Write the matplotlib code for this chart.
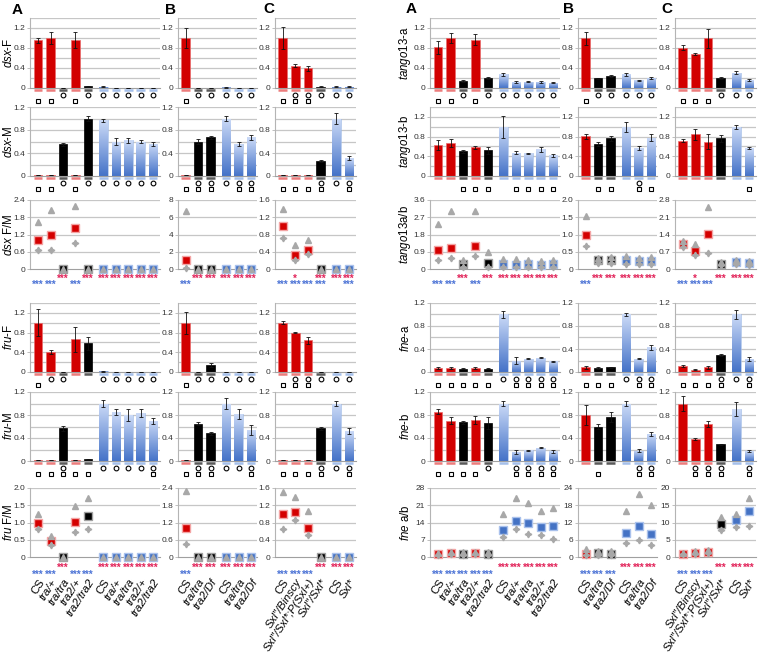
import numpy as np
import matplotlib
matplotlib.use('Agg')
import matplotlib.pyplot as plt
from matplotlib.colors import LinearSegmentedColormap
from matplotlib.transforms import offset_copy

plt.rcParams['font.family'] = ['Liberation Sans', 'DejaVu Sans']
plt.rcParams['mathtext.fontset'] = 'custom'
plt.rcParams['mathtext.rm'] = 'Liberation Sans'
plt.rcParams['mathtext.it'] = 'Liberation Sans:italic'

nan = np.nan

# genotypes / colours per column
labels_A = ['CS', 'tra/+', 'tra/tra', 'tra2/+', 'tra2/tra2', 'CS', 'tra/+', 'tra/tra', 'tra2/+', 'tra2/tra2']
colors_A = ['r', 'r', 'k', 'r', 'k', 'b', 'b', 'b', 'b', 'b']
labels_B = ['CS', 'tra/tra', 'tra2/Df', 'CS', 'tra/tra', 'tra2/Df']
colors_B = ['r', 'k', 'k', 'b', 'b', 'b']
labels_C = ['CS', 'Sxl\u2033/Binscy', 'Sxl\u2033/Sxl*;P(Sxl+)', 'Sxl\u2033/Sxl*', 'CS', 'Sxl*']
colors_C = ['r', 'r', 'r', 'k', 'b', 'b']

# ---- dsx ----
dsxF_A = [0.96, 1.0, 0.01, 0.97, 0.04, 0.03, 0.01, 0.01, 0.01, 0.01]
dsxF_A_err = [0.05, 0.12, 0, 0.16, 0.01, 0.01, 0, 0, 0, 0]
dsxF_A_mk = ['s', 's', 'o', 's', 'o', 'o', 'o', 'o', 'o', 'o']
dsxF_B = [1.0, 0.01, 0.01, 0.02, 0.01, 0.01]
dsxF_B_err = [0.2, 0, 0, 0.01, 0, 0]
dsxF_B_mk = ['s', 'o', 'o', 'o', 'o', 'o']
dsxF_C = [1.0, 0.45, 0.40, 0.03, 0.03, 0.03]
dsxF_C_err = [0.22, 0.03, 0.05, 0.01, 0.01, 0.01]
dsxF_C_mk = ['s', 'os', 'os', 'o', 'o', 'o']

dsxM_A = [0.01, 0.01, 0.55, 0.01, 1.0, 0.97, 0.60, 0.62, 0.60, 0.56]
dsxM_A_err = [0, 0, 0.03, 0, 0.04, 0.03, 0.06, 0.04, 0.02, 0.03]
dsxM_A_mk = ['s', 's', 'o', 's', 'o', 'o', 'o', 'o', 'o', 'o']
dsxM_B = [0.01, 0.60, 0.67, 1.0, 0.56, 0.67]
dsxM_B_err = [0, 0.04, 0.03, 0.05, 0.03, 0.04]
dsxM_B_mk = ['s', 'os', 'os', 'o', 'os', 'os']
dsxM_C = [0.01, 0.01, 0.01, 0.26, 1.0, 0.31]
dsxM_C_err = [0, 0, 0, 0.01, 0.09, 0.04]
dsxM_C_mk = ['s', 's', 's', 'os', 'o', 'os']

dsxR_A = [1.02, 1.2, 0, 1.42, 0, 0, 0, 0, 0, 0]
dsxR_A_hi = [1.65, 2.05, 0, 2.2, 0, 0, 0, 0, 0, 0]
dsxR_A_lo = [0.65, 0.65, nan, 0.9, nan, nan, nan, nan, nan, nan]
dsxR_A_red = ['', '', '***', '', '***', '***', '***', '***', '***', '***']
dsxR_A_blue = ['***', '***', '', '***', '', '', '', '', '', '']
dsxR_B = [1.0, 0, 0, 0, 0, 0]
dsxR_B_hi = [6.7, 0, 0, 0, 0, 0]
dsxR_B_lo = [0.15, nan, nan, nan, nan, nan]
dsxR_B_red = ['', '***', '***', '***', '***', '***']
dsxR_B_blue = ['***', '', '', '', '', '']
dsxR_C = [1.0, 0.32, 0.44, 0, 0, 0]
dsxR_C_hi = [1.38, 0.55, 0.67, 0, 0, 0]
dsxR_C_lo = [0.72, 0.2, 0.35, nan, nan, nan]
dsxR_C_red = ['', '*', '', '***', '***', '***']
dsxR_C_blue = ['***', '***', '***', '***', '', '***']

# ---- fru ----
fruF_A = [1.0, 0.40, 0.01, 0.66, 0.58, 0.02, 0.01, 0.01, 0.01, 0.01]
fruF_A_err = [0.27, 0.04, 0, 0.26, 0.13, 0.01, 0, 0, 0, 0]
fruF_A_mk = ['s', 'o', 'o', '', '', 'o', 'o', 'o', 'o', 'o']
fruF_B = [1.0, 0.01, 0.14, 0.01, 0.01, 0.01]
fruF_B_err = [0.22, 0, 0.04, 0, 0, 0]
fruF_B_mk = ['s', 'o', 'o', 'o', 'o', 'o']
fruF_C = [1.0, 0.80, 0.64, 0.01, 0.01, 0.01]
fruF_C_err = [0.03, 0.01, 0.08, 0, 0, 0]
fruF_C_mk = ['s', 'os', 'os', 'o', 'o', 'o']

fruM_A = [0.01, 0.01, 0.57, 0.01, 0.03, 1.0, 0.85, 0.80, 0.83, 0.70]
fruM_A_err = [0, 0, 0.04, 0, 0.01, 0.06, 0.05, 0.10, 0.07, 0.05]
fruM_A_mk = ['s', 's', 'os', 's', 's', 'o', 'o', 'o', 'o', 'os']
fruM_B = [0.01, 0.65, 0.48, 1.0, 0.82, 0.54]
fruM_B_err = [0, 0.03, 0.03, 0.09, 0.09, 0.09]
fruM_B_mk = ['s', 'os', 'os', 'o', 'o', 'os']
fruM_C = [0.01, 0.01, 0.01, 0.57, 1.0, 0.52]
fruM_C_err = [0, 0, 0, 0.03, 0.05, 0.05]
fruM_C_mk = ['s', 's', 's', 'os', 'o', 'os']

fruR_A = [1.0, 0.45, 0, 1.02, 1.2, 0, 0, 0, 0, 0]
fruR_A_hi = [1.25, 0.62, 0, 1.47, 1.7, 0, 0, 0, 0, 0]
fruR_A_lo = [0.8, 0.35, nan, 0.72, 0.82, nan, nan, nan, nan, nan]
fruR_A_red = ['', '', '***', '', '', '***', '***', '***', '***', '***']
fruR_A_blue = ['***', '***', '', '***', '***', '', '', '', '', '']
fruR_B = [1.0, 0, 0, 0, 0, 0]
fruR_B_hi = [2.28, 0, 0, 0, 0, 0]
fruR_B_lo = [0.45, nan, nan, nan, nan, nan]
fruR_B_red = ['', '***', '***', '***', '***', '***']
fruR_B_blue = ['***', '', '', '', '', '']
fruR_C = [1.0, 1.05, 0.67, 0, 0, 0]
fruR_C_hi = [1.5, 1.38, 1.06, 0, 0, 0]
fruR_C_lo = [0.66, 0.85, 0.5, nan, nan, nan]
fruR_C_red = ['', '', '', '***', '***', '***']
fruR_C_blue = ['***', '***', '***', '', '', '']

# ---- tango13 ----
tgA_A = [0.82, 1.0, 0.15, 0.97, 0.20, 0.28, 0.12, 0.13, 0.13, 0.11]
tgA_A_err = [0.13, 0.10, 0.02, 0.11, 0.02, 0.03, 0.02, 0.01, 0.02, 0.01]
tgA_A_mk = ['s', 's', 'o', 's', 'o', 'o', 'o', 'o', 'o', 'o']
tgA_B = [1.0, 0.20, 0.25, 0.28, 0.16, 0.21]
tgA_B_err = [0.13, 0.01, 0.02, 0.03, 0.01, 0.02]
tgA_B_mk = ['s', 'o', 'o', 'o', 'o', 'o']
tgA_C = [0.81, 0.68, 1.0, 0.20, 0.31, 0.16]
tgA_C_err = [0.05, 0.02, 0.19, 0.02, 0.03, 0.02]
tgA_C_mk = ['s', 's', 's', 'o', 'o', 'o']

tgB_A = [0.63, 0.67, 0.50, 0.58, 0.52, 1.0, 0.47, 0.46, 0.54, 0.42]
tgB_A_err = [0.10, 0.08, 0.03, 0.03, 0.07, 0.22, 0.03, 0.01, 0.05, 0.03]
tgB_A_mk = ['', '', 's', 's', 's', '', 's', 's', 's', 's']
tgB_B = [0.81, 0.65, 0.77, 1.0, 0.57, 0.78]
tgB_B_err = [0.05, 0.04, 0.05, 0.10, 0.04, 0.07]
tgB_B_mk = ['', 's', 's', '', 'os', 's']
tgB_C = [0.72, 0.85, 0.70, 0.77, 1.0, 0.56]
tgB_C_err = [0.03, 0.11, 0.16, 0.07, 0.04, 0.02]
tgB_C_mk = ['', '', '', '', '', 's']

tgR_A = [1.0, 1.12, 0.25, 1.22, 0.32, 0.25, 0.22, 0.25, 0.20, 0.24]
tgR_A_hi = [2.33, 3.05, 0.48, 3.02, 0.88, 0.53, 0.50, 0.45, 0.40, 0.48]
tgR_A_lo = [0.45, 0.55, 0.12, 0.70, 0.10, 0.10, 0.10, 0.12, 0.10, 0.10]
tgR_A_red = ['', '', '***', '', '***', '***', '***', '***', '***', '***']
tgR_A_blue = ['***', '***', '', '***', '', '', '', '', '', '']
tgR_B = [1.0, 0.25, 0.27, 0.25, 0.22, 0.23]
tgR_B_hi = [1.53, 0.33, 0.35, 0.38, 0.33, 0.35]
tgR_B_lo = [0.67, 0.17, 0.17, 0.15, 0.14, 0.15]
tgR_B_red = ['', '***', '***', '***', '***', '***']
tgR_B_blue = ['***', '', '', '', '', '']
tgR_C = [1.0, 0.72, 1.43, 0.22, 0.27, 0.25]
tgR_C_hi = [1.12, 1.0, 2.5, 0.30, 0.35, 0.32]
tgR_C_lo = [0.9, 0.55, 0.65, 0.15, 0.20, 0.18]
tgR_C_red = ['', '*', '', '***', '***', '***']
tgR_C_blue = ['***', '***', '***', '', '', '']

# ---- fne ----
fnA_A = [0.07, 0.07, 0.06, 0.07, 0.06, 1.0, 0.20, 0.23, 0.25, 0.19]
fnA_A_err = [0.01, 0.01, 0.01, 0.01, 0.01, 0.06, 0.06, 0.01, 0.01, 0.01]
fnA_A_mk = ['s', 's', 's', 's', 's', 'o', 'os', 'os', 'os', 'os']
fnA_B = [0.08, 0.07, 0.08, 1.0, 0.23, 0.43]
fnA_B_err = [0.02, 0.01, 0.01, 0.03, 0.01, 0.04]
fnA_B_mk = ['s', 's', 's', 'o', 'os', 'os']
fnA_C = [0.10, 0.04, 0.08, 0.29, 1.0, 0.23]
fnA_C_err = [0.02, 0.01, 0.02, 0.02, 0.08, 0.03]
fnA_C_mk = ['s', 's', 's', 'os', 'o', 'os']

fnB_A = [0.86, 0.70, 0.67, 0.71, 0.66, 1.0, 0.16, 0.19, 0.23, 0.17]
fnB_A_err = [0.04, 0.06, 0.02, 0.07, 0.10, 0.05, 0.03, 0.01, 0.01, 0.03]
fnB_A_mk = ['s', 's', 's', 's', 'o', '', 'os', 'os', 'os', 'os']
fnB_B = [0.80, 0.60, 0.76, 1.0, 0.18, 0.47]
fnB_B_err = [0.17, 0.05, 0.09, 0.04, 0.03, 0.03]
fnB_B_mk = ['', 's', '', '', 'os', 'os']
fnB_C = [1.0, 0.38, 0.65, 0.29, 0.90, 0.17]
fnB_C_err = [0.13, 0.02, 0.05, 0.01, 0.12, 0.02]
fnB_C_mk = ['', 'os', 'os', 'os', '', 'os']

fnR_A = [1.3, 1.5, 1.4, 1.5, 1.4, 11.0, 14.8, 14.0, 12.0, 12.7]
fnR_A_hi = [1.8, 2.0, 1.9, 2.0, 1.9, 17.5, 24.0, 22.0, 18.5, 20.0]
fnR_A_lo = [1.0, 1.1, 1.0, 1.1, 1.0, 8.0, 11.5, 9.5, 9.0, 7.5]
fnR_A_red = ['', '', '', '', '', '***', '***', '***', '***', '***']
fnR_A_blue = ['***', '***', '***', '***', '***', '', '', '', '', '']
fnR_B = [1.2, 1.3, 1.2, 8.3, 10.7, 7.9]
fnR_B_hi = [2.8, 2.2, 2.0, 16.0, 22.0, 18.0]
fnR_B_lo = [0.8, 0.8, 0.8, 5.0, 5.8, 4.2]
fnR_B_red = ['', '', '', '***', '***', '***']
fnR_B_blue = ['***', '***', '***', '', '', '']
fnR_C = [1.0, 1.3, 1.5, 9.7, 10.7, 13.3]
fnR_C_hi = [1.2, 1.6, 1.9, 11.5, 12.5, 17.0]
fnR_C_lo = [0.8, 1.0, 1.1, 7.7, 8.8, 9.0]
fnR_C_red = ['', '', '', '***', '***', '***']
fnR_C_blue = ['***', '***', '***', '', '', '']

# ---------------- layout (pixels) ----------------
W, H = 758, 657
fig = plt.figure(figsize=(W / 100, H / 100), dpi=100)

COLX = [(30, 160), (178, 257), (275, 356)]
ROWY = [(18, 88), (107, 176), (200, 269), (303, 372), (392, 461), (488, 557)]
POS = [[0, 1, 2, 3, 4, 5.25, 6.25, 7.25, 8.25, 9.25], [0, 1, 2, 3.25, 4.25, 5.25], [0, 1, 2, 3, 4.25, 5.25]]
XLIM = [(-0.65, 9.8), (-0.6, 5.72), (-0.6, 5.8)]
LABELS = [labels_A, labels_B, labels_C]
COLORS = [colors_A, colors_B, colors_C]

FILL = {'r': '#d20000', 'k': '#000000', 'b': 'none'}
EDGE = {'r': '#ea6a6a', 'k': '#000000', 'b': '#a0bbe8'}
BASE = {'r': '#ec7c7c', 'k': '#5a5a5a', 'b': '#a4bfea'}
SQ = {'r': '#d40000', 'k': '#000000', 'b': '#4472c4'}
SQE = {'r': '#f4a4a4', 'k': '#a0a0a0', 'b': '#a9c1ec'}
blue_cmap = LinearSegmentedColormap.from_list('bl', ['#4573c8', '#cbdaf7'])
grad = np.linspace(0, 1, 64).reshape(-1, 1)


def add_ax(x0, x1, y0, y1):
    return fig.add_axes([x0 / W, 1 - y1 / H, (x1 - x0) / W, (y1 - y0) / H])


def style_axes(ax, xlim, ytop, step, minor):
    ax.set_xlim(*xlim)
    ax.set_ylim(0, ytop)
    for s in ['top', 'right']:
        ax.spines[s].set_visible(False)
    ax.spines['left'].set_color('#b4b4b4')
    ax.spines['bottom'].set_color('#a0a0a0')
    ax.spines['left'].set_linewidth(0.8)
    ax.spines['bottom'].set_linewidth(0.8)
    lines = np.arange(0, ytop + 1e-9, step / 2 if minor else step)
    for y in lines[1:]:
        ax.axhline(y, color='#c6c6c6', lw=0.9, zorder=0)
    ticks = np.arange(0, ytop + 1e-9, step)
    fmt = '%d' if float(step).is_integer() else '%.1f'
    ax.set_yticks(ticks, ['0' if t == 0 else fmt % t for t in ticks])
    ax.tick_params(axis='y', length=2.5, width=0.6, color='#b4b4b4', labelsize=6, pad=1,
                   labelcolor='#333333')
    ax.tick_params(axis='x', length=0, labelbottom=False)


def bar_panel(ax, pos, vals, errs, cols, marks, xlim, ytop):
    style_axes(ax, xlim, ytop, 0.4, True)
    w = 0.68
    bars = ax.bar(pos, vals, width=w, color=[FILL[c] for c in cols],
                  edgecolor=[EDGE[c] for c in cols], linewidth=0.5, zorder=2)
    for b, c in zip(bars, cols):
        if c == 'b':
            im = ax.imshow(grad, extent=(b.get_x(), b.get_x() + w, 0, b.get_height()), origin='lower',
                           cmap=blue_cmap, aspect='auto', zorder=2, interpolation='bilinear')
            im.set_clip_path(b)
    ax.set_xlim(*xlim)
    ax.set_ylim(0, ytop)
    ax.errorbar(pos, vals, yerr=errs, fmt='none', ecolor='#111111', elinewidth=0.6,
                capsize=1.5, capthick=0.6, zorder=3)
    base = offset_copy(ax.transData, fig=fig, y=-1.5, units='dots')
    for x, c in zip(pos, cols):
        ax.plot([x - w / 2, x + w / 2], [0, 0], color=BASE[c], lw=1.8, transform=base,
                clip_on=False, solid_capstyle='butt', zorder=4)
    tr_o = offset_copy(ax.get_xaxis_transform(), fig=fig, y=-6.5, units='dots')
    tr_s = offset_copy(ax.get_xaxis_transform(), fig=fig, y=-12.5, units='dots')
    for x, m in zip(pos, marks):
        if 'o' in m:
            ax.plot(x, 0, 'o', ms=3.4, mfc='white', mec='black', mew=0.8, transform=tr_o, clip_on=False)
        if 's' in m:
            ax.plot(x, 0, 's', ms=3.4, mfc='white', mec='black', mew=0.8, transform=tr_s, clip_on=False)


def ratio_panel(ax, pos, mean, hi, lo, cols, red, blue, xlim, ytop, step, labels, low):
    style_axes(ax, xlim, ytop, step, False)
    for x, m, c in zip(pos, mean, cols):
        ax.plot(x, m, 's', ms=5.4, mfc=SQ[c], mec=SQE[c], mew=1.0, zorder=3, clip_on=False)
    ax.plot(pos, hi, '^', ms=3.8, color='#a8a8a8', ls='none', zorder=4, clip_on=False)
    ax.plot(pos, lo, marker=(4, 1, 0), ms=4.8, color='#a8a8a8', ls='none', zorder=4, clip_on=False)
    dr, db = (9, 15.5) if low else (7.5, 14)
    tr_r = offset_copy(ax.get_xaxis_transform(), fig=fig, y=-dr - 2, units='dots')
    tr_b = offset_copy(ax.get_xaxis_transform(), fig=fig, y=-db - 2, units='dots')
    for x, s in zip(pos, red):
        if s:
            ax.text(x, 0, s, transform=tr_r, ha='center', va='center', fontsize=7,
                    fontweight='bold', color='#e2245a')
    for x, s in zip(pos, blue):
        if s:
            ax.text(x, 0, s, transform=tr_b, ha='center', va='center', fontsize=7,
                    fontweight='bold', color='#4d74d6')
    if labels:
        tr_l = offset_copy(ax.get_xaxis_transform(), fig=fig, x=4, y=-23, units='dots')
        for x, lab in zip(pos, labels):
            ax.text(x, 0, lab, transform=tr_l, rotation=57, ha='right', va='center',
                    rotation_mode='anchor', fontsize=8.2,
                    fontstyle='normal' if lab == 'CS' else 'italic')


sides = [
    (0, ['$\\mathit{dsx}$-F', '$\\mathit{dsx}$-M', '$\\mathit{dsx}$ F/M',
         '$\\mathit{fru}$-F', '$\\mathit{fru}$-M', '$\\mathit{fru}$ F/M'],
     [1.4, 1.2, None, 1.4, 1.2, None],
     [[(dsxF_A, dsxF_A_err, dsxF_A_mk), (dsxF_B, dsxF_B_err, dsxF_B_mk), (dsxF_C, dsxF_C_err, dsxF_C_mk)],
      [(dsxM_A, dsxM_A_err, dsxM_A_mk), (dsxM_B, dsxM_B_err, dsxM_B_mk), (dsxM_C, dsxM_C_err, dsxM_C_mk)],
      [(dsxR_A, dsxR_A_hi, dsxR_A_lo, dsxR_A_red, dsxR_A_blue, 2.4, 0.6),
       (dsxR_B, dsxR_B_hi, dsxR_B_lo, dsxR_B_red, dsxR_B_blue, 8, 2),
       (dsxR_C, dsxR_C_hi, dsxR_C_lo, dsxR_C_red, dsxR_C_blue, 1.6, 0.4)],
      [(fruF_A, fruF_A_err, fruF_A_mk), (fruF_B, fruF_B_err, fruF_B_mk), (fruF_C, fruF_C_err, fruF_C_mk)],
      [(fruM_A, fruM_A_err, fruM_A_mk), (fruM_B, fruM_B_err, fruM_B_mk), (fruM_C, fruM_C_err, fruM_C_mk)],
      [(fruR_A, fruR_A_hi, fruR_A_lo, fruR_A_red, fruR_A_blue, 2.0, 0.5),
       (fruR_B, fruR_B_hi, fruR_B_lo, fruR_B_red, fruR_B_blue, 2.4, 0.6),
       (fruR_C, fruR_C_hi, fruR_C_lo, fruR_C_red, fruR_C_blue, 1.6, 0.4)]]),
    (400, ['$\\mathit{tango13}$-a', '$\\mathit{tango13}$-b', '$\\mathit{tango13}$a/b',
           '$\\mathit{fne}$-a', '$\\mathit{fne}$-b', '$\\mathit{fne}$ a/b'],
     [1.4, 1.4, None, 1.2, 1.2, None],
     [[(tgA_A, tgA_A_err, tgA_A_mk), (tgA_B, tgA_B_err, tgA_B_mk), (tgA_C, tgA_C_err, tgA_C_mk)],
      [(tgB_A, tgB_A_err, tgB_A_mk), (tgB_B, tgB_B_err, tgB_B_mk), (tgB_C, tgB_C_err, tgB_C_mk)],
      [(tgR_A, tgR_A_hi, tgR_A_lo, tgR_A_red, tgR_A_blue, 3.6, 0.9),
       (tgR_B, tgR_B_hi, tgR_B_lo, tgR_B_red, tgR_B_blue, 2.0, 0.5),
       (tgR_C, tgR_C_hi, tgR_C_lo, tgR_C_red, tgR_C_blue, 2.8, 0.7)],
      [(fnA_A, fnA_A_err, fnA_A_mk), (fnA_B, fnA_B_err, fnA_B_mk), (fnA_C, fnA_C_err, fnA_C_mk)],
      [(fnB_A, fnB_A_err, fnB_A_mk), (fnB_B, fnB_B_err, fnB_B_mk), (fnB_C, fnB_C_err, fnB_C_mk)],
      [(fnR_A, fnR_A_hi, fnR_A_lo, fnR_A_red, fnR_A_blue, 28, 7),
       (fnR_B, fnR_B_hi, fnR_B_lo, fnR_B_red, fnR_B_blue, 24, 6),
       (fnR_C, fnR_C_hi, fnR_C_lo, fnR_C_red, fnR_C_blue, 20, 5)]]),
]

for dx, ylabels, ylims, rows in sides:
    for r, (yspan, ylab, ytop, panels) in enumerate(zip(ROWY, ylabels, ylims, rows)):
        for c, p in enumerate(panels):
            ax = add_ax(COLX[c][0] + dx, COLX[c][1] + dx, yspan[0], yspan[1])
            if ytop is not None:
                bar_panel(ax, POS[c], p[0], p[1], COLORS[c], p[2], XLIM[c], ytop)
            else:
                ratio_panel(ax, POS[c], p[0], p[1], p[2], COLORS[c], p[3], p[4], XLIM[c], p[5], p[6],
                            LABELS[c] if r == 5 else None, r == 5)
        fig.text((9 if dx == 0 else 405) / W, 1 - (yspan[0] + yspan[1]) / 2 / H, ylab,
                 rotation=90, ha='center', va='center', fontsize=8.3)

for x, y, s in [(17, 10, 'A'), (170, 10, 'B'), (269, 9, 'C'),
                (411, 9, 'A'), (569, 9, 'B'), (667, 9, 'C')]:
    fig.text(x / W, 1 - y / H, s, fontsize=11, fontweight='bold', ha='center', va='center')

fig.savefig('out.png', dpi=100)
